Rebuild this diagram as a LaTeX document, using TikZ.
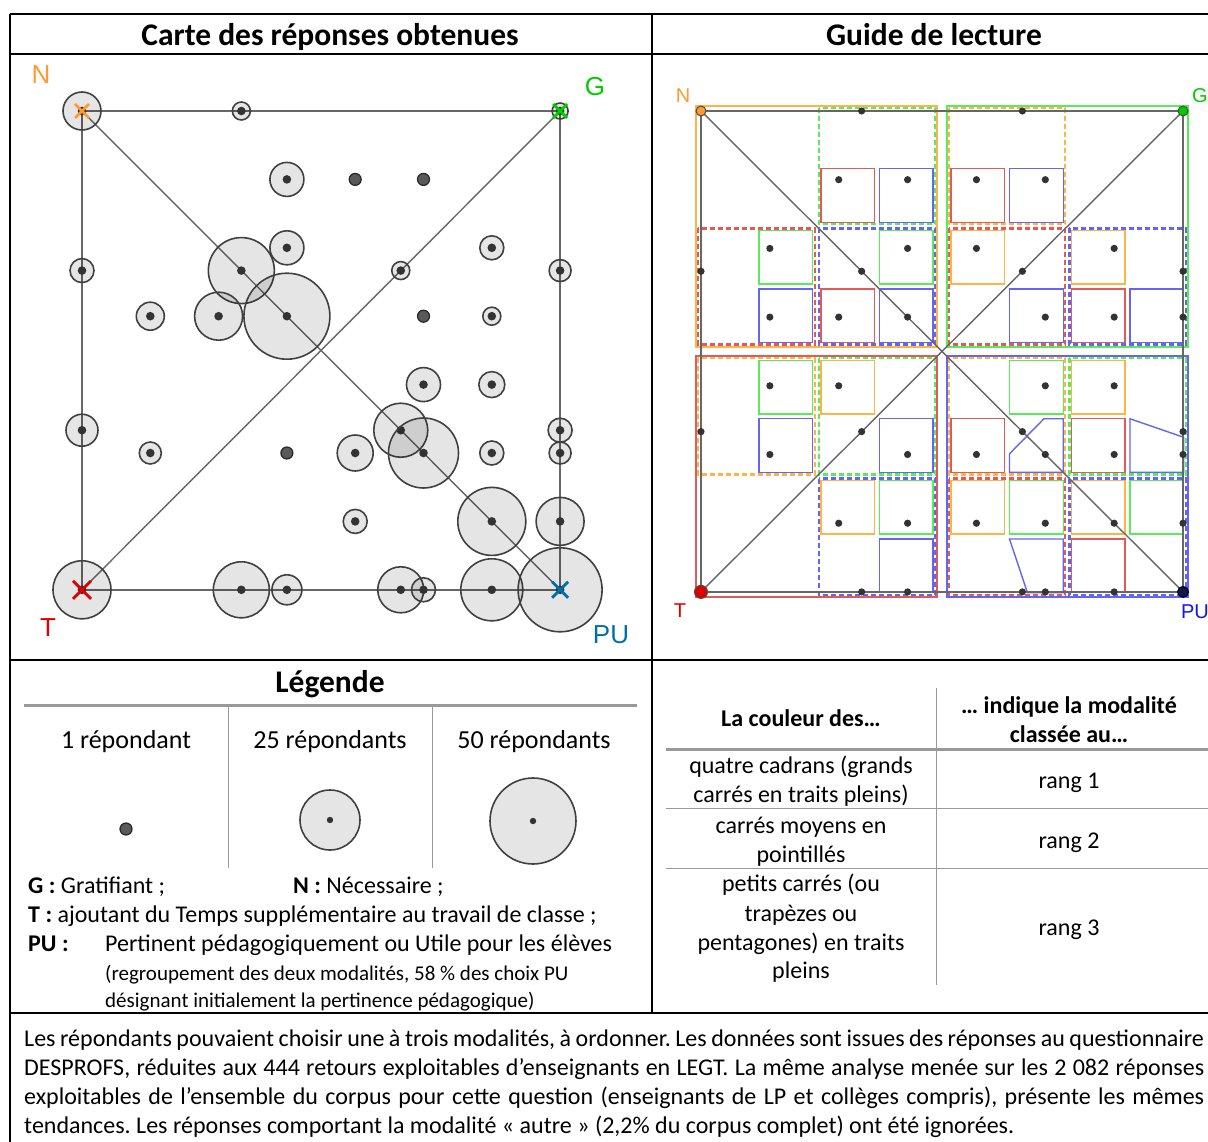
\documentclass[tikz,border=0pt]{standalone}
\usepackage{fontspec}
\setmainfont{Carlito}
\newfontfamily\geofont{Liberation Sans}
\usepackage{tikz}
\definecolor{norange}{RGB}{255,153,51}
\definecolor{ngreen}{RGB}{0,204,0}
\definecolor{nred}{RGB}{220,0,0}
\definecolor{nblue}{RGB}{0,110,170}
\definecolor{corange}{RGB}{255,178,70}
\definecolor{cgreen}{RGB}{90,235,90}
\definecolor{cred}{RGB}{225,90,90}
\definecolor{cblue}{RGB}{100,100,245}
\definecolor{pblue}{RGB}{20,20,240}
\definecolor{navy}{RGB}{20,20,80}
\newcommand{\ftitre}{\fontsize{31.5}{36}\selectfont\bfseries}
\newcommand{\fleg}{\fontsize{26}{31}\selectfont}
\newcommand{\ftexte}{\fontsize{24}{29}\selectfont}
\newcommand{\fpetit}{\fontsize{21}{26}\selectfont}
\newcommand{\fbas}{\fontsize{24}{29}\selectfont\frenchspacing}
\newcommand{\cellpos}[1]{-0.01+3.64*int(#1/4)+1.75*int(mod(#1,4)/2)+0.85*mod(#1,2)}
\newcommand{\midpos}[1]{-0.04+1.75*#1+0.14*int(#1/2)}

\begin{document}
\begin{tikzpicture}[x=1pt, y=-1pt,
	cadre/.style = {line width=2pt, black},
	trait/.style = {line width=1.4pt, black!60},
	rond/.style = {draw=black!75, line width=1.6pt, fill=black, fill opacity=0.1},
	point/.style = {fill=black!80},
	seul/.style = {fill=black!65, draw=black!85, line width=1.2pt},
	croix/.style = {line width=2.8pt},
	grand/.style = {line width=2.2pt},
	moyen/.style = {line width=2.2pt, dash pattern=on 5pt off 3pt},
	petit/.style = {line width=1.4pt},
	txt/.style = {inner sep=0pt, anchor=base},
	txtg/.style = {inner sep=0pt, anchor=base west},
	geo/.style = {inner sep=0pt, font=\geofont\fontsize{26}{30}\selectfont},
	geop/.style = {inner sep=0pt, font=\geofont\fontsize{20}{24}\selectfont},
	regle/.style = {line width=3pt, black!40},
	fine/.style = {line width=1pt, black!40}]
	\useasboundingbox (0,0) rectangle (1208,1142);
	\draw[cadre] (10,14) -- (1208,14);
	\draw[cadre] (10,54) -- (1208,54);
	\draw[cadre] (10,660) -- (1208,660);
	\draw[cadre] (10,1013) -- (1208,1013);
	\draw[cadre] (10,14) -- (10,1142);
	\draw[cadre] (652,14) -- (652,1013);
	\node[txt, font=\ftitre] (titre1) at (330,46) {Carte des réponses obtenues};
	\node[txt, font=\ftitre] (titre2) at (934,46) {Guide de lecture};

	\begin{scope}[shift={(82,111)}, x=68.3pt, y=-68.4pt]
		\coordinate (n) at (0,0);
		\coordinate (g) at (7,0);
		\coordinate (t) at (0,7);
		\coordinate (pu) at (7,7);
		\draw[trait] (n) -- (g) -- (pu) -- (t) -- cycle;
		\draw[trait] (n) -- (pu);
		\draw[trait] (t) -- (g);
		\foreach \x/\y/\r in {0/0/19, 2.333/0/9, 7/0/8, 3/1/17, 3/2/17, 6/2/12,
			0/2.333/12, 2.333/2.333/33, 4.667/2.333/9, 7/2.333/11, 1/3/14, 2/3/24,
			3/3/43, 6/3/9, 5/4/17, 6/4/13, 0/4.667/16, 4.667/4.667/27, 7/4.667/12,
			1/5/11, 4/5/18, 5/5/35, 6/5/12, 7/5/11, 4/6/12, 6/6/34, 7/6/24,
			0/7/29, 2.333/7/28, 3/7/15, 4.667/7/23, 5/7/12, 6/7/31, 7/7/42}
		{
			\draw[rond] (\x,\y) circle[radius=\r pt];
			\fill[point] (\x,\y) circle[radius=4.3pt];
		}
		\foreach \x/\y in {4/1, 5/1, 5/3, 3/5}
			\draw[seul] (\x,\y) circle[radius=6pt];
		\draw[croix, norange] (n) ++(-7pt,-7pt) -- ++(14pt,14pt) (n) ++(-7pt,7pt) -- ++(14pt,-14pt);
		\draw[croix, ngreen] (g) ++(-7pt,-7pt) -- ++(14pt,14pt) (g) ++(-7pt,7pt) -- ++(14pt,-14pt);
		\draw[croix, nred] (t) ++(-9pt,-9pt) -- ++(18pt,18pt) (t) ++(-9pt,9pt) -- ++(18pt,-18pt);
		\draw[croix, nblue] (pu) ++(-8pt,-8pt) -- ++(16pt,16pt) (pu) ++(-8pt,8pt) -- ++(16pt,-16pt);
	\end{scope}
	\node[geo, text=norange] (nlab) at (41,75) {N};
	\node[geo, text=ngreen] (glab) at (595,87) {G};
	\node[geo, text=nred] (tlab) at (48,628) {T};
	\node[geo, text=nblue] (pulab) at (611,635) {PU};

	\begin{scope}[shift={(701,111)}, x=68.86pt, y=-68.7pt]
		\draw[grand, corange] (-0.07,-0.07) rectangle ++(3.5,3.5);
		\draw[grand, cgreen] (3.57,-0.07) rectangle ++(3.5,3.5);
		\draw[grand, cred] (-0.07,3.57) rectangle ++(3.5,3.5);
		\draw[grand, cblue] (3.57,3.57) rectangle ++(3.5,3.5);
		\foreach \col/\i/\j in {cgreen/1/0, cred/0/1, cblue/1/1, corange/2/0, cred/2/1, cblue/3/1,
			corange/0/2, cgreen/1/2, cblue/1/3, corange/2/2, cgreen/3/2, cred/2/3, cblue/3/3}
			\draw[moyen, \col] ({\midpos{\i}},{\midpos{\j}}) rectangle ++(1.69,1.69);
		\foreach \col/\i/\j in {cred/2/1, cblue/3/1, cgreen/1/2, cblue/1/3, cgreen/3/2, cred/2/3, cblue/3/3,
			cred/4/1, cblue/5/1, corange/4/2, cblue/5/3, corange/6/2, cred/6/3, cblue/7/3,
			cgreen/1/4, cblue/1/5, corange/2/4, cblue/3/5, corange/2/6, cgreen/3/6, cblue/3/7,
			cgreen/5/4, cred/4/5, corange/6/4, cred/6/5, corange/4/6, cgreen/5/6, corange/6/6,
			cgreen/7/6, cred/6/7}
			\draw[petit, \col] ({\cellpos{\i}},{\cellpos{\j}}) rectangle ++(0.78,0.78);
		\draw[petit, cblue] (4.48,5.26) -- (4.48,4.99) -- (4.98,4.48) -- (5.26,4.48) -- (5.26,5.26) -- cycle;
		\draw[petit, cblue] (6.23,4.48) -- (7.01,4.75) -- (7.01,5.26) -- (6.23,5.26) -- cycle;
		\draw[petit, cblue] (4.48,6.23) -- (5.26,6.23) -- (5.26,7.01) -- (4.74,7.01) -- cycle;
		\coordinate (n2) at (0,0);
		\coordinate (g2) at (7,0);
		\coordinate (t2) at (0,7);
		\coordinate (pu2) at (7,7);
		\draw[trait] (n2) -- (g2) -- (pu2) -- (t2) -- cycle;
		\draw[trait] (n2) -- (pu2);
		\draw[trait] (t2) -- (g2);
		\foreach \x/\y in {2.333/0, 4.667/0, 2/1, 3/1, 4/1, 5/1, 1/2, 3/2, 4/2, 6/2,
			0/2.333, 2.333/2.333, 4.667/2.333, 7/2.333, 1/3, 2/3, 3/3, 5/3, 6/3, 7/3,
			1/4, 2/4, 5/4, 6/4, 0/4.667, 2.333/4.667, 4.667/4.667, 7/4.667,
			1/5, 3/5, 4/5, 5/5, 6/5, 7/5, 2/6, 3/6, 4/6, 5/6, 6/6, 7/6,
			2.333/7, 3/7, 4.667/7, 5/7, 6/7}
			\fill[point] (\x,\y) circle[radius=3.6pt];
		\filldraw[fill=norange, draw=black!70, line width=1pt] (n2) circle[radius=5pt];
		\filldraw[fill=ngreen, draw=black!70, line width=1pt] (g2) circle[radius=5pt];
		\filldraw[fill=nred, draw=black!70, line width=1pt] (t2) circle[radius=6.5pt];
		\filldraw[fill=navy, draw=black, line width=1pt] (pu2) circle[radius=5.5pt];
	\end{scope}
	\node[geop, text=norange] (nlab2) at (683,96) {N};
	\node[geop, text=ngreen] (glab2) at (1200,96) {G};
	\node[geop, text=nred] (tlab2) at (680,611) {T};
	\node[geop, text=pblue] (pulab2) at (1195,612) {PU};

	\node[txt, font=\ftitre] (legende) at (330,692) {Légende};
	\draw[regle] (24,705) -- (637,705);
	\draw[fine] (228,705) -- (228,868);
	\draw[fine] (432,705) -- (432,868);
	\node[txt, font=\fleg] (un) at (126,748) {1 répondant};
	\node[txt, font=\fleg] (vingt) at (330,748) {25 répondants};
	\node[txt, font=\fleg] (cinquante) at (534,748) {50 répondants};
	\draw[seul] (126,829) circle[radius=6pt];
	\draw[rond] (330,820) circle[radius=30pt];
	\fill[point] (330,820) circle[radius=3.2pt];
	\draw[rond] (533,821) circle[radius=43pt];
	\fill[point] (533,821) circle[radius=3.2pt];
	\node[txtg, font=\ftexte] (legg) at (28,893) {\textbf{G :} Gratifiant ;};
	\node[txtg, font=\ftexte] (legn) at (293,893) {\textbf{N :} Nécessaire ;};
	\node[txtg, font=\ftexte] (legt) at (28,922) {\textbf{T :} ajoutant du Temps supplémentaire au travail de classe ;};
	\node[txtg, font=\ftexte] (legpu) at (28,951) {\textbf{PU :}};
	\node[txtg, font=\ftexte] (legpu2) at (105,951) {Pertinent pédagogiquement ou Utile pour les élèves};
	\node[txtg, font=\fpetit] (legpu3) at (105,980) {(regroupement des deux modalités, 58 \% des choix PU};
	\node[txtg, font=\fpetit] (legpu4) at (105,1007) {désignant initialement la pertinence pédagogique)};

	\draw[fine] (936,688) -- (936,985);
	\draw[regle] (666,749) -- (1208,749);
	\draw[fine] (666,808) -- (1208,808);
	\draw[fine] (666,868) -- (1208,868);
	\node[txt, font=\ftexte\bfseries] (col1) at (801,726) {La couleur des…};
	\node[txt, font=\ftexte\bfseries] (col2a) at (1069,713) {… indique la modalité};
	\node[txt, font=\ftexte\bfseries] (col2b) at (1069,742) {classée au…};
	\node[txt, font=\ftexte] (r1a) at (801,773) {quatre cadrans (grands};
	\node[txt, font=\ftexte] (r1b) at (801,802) {carrés en traits pleins)};
	\node[txt, font=\ftexte] (rang1) at (1069,788) {rang 1};
	\node[txt, font=\ftexte] (r2a) at (801,833) {carrés moyens en};
	\node[txt, font=\ftexte] (r2b) at (801,862) {pointillés};
	\node[txt, font=\ftexte] (rang2) at (1069,848) {rang 2};
	\node[txt, font=\ftexte] (r3a) at (801,891) {petits carrés (ou};
	\node[txt, font=\ftexte] (r3b) at (801,921) {trapèzes ou};
	\node[txt, font=\ftexte] (r3c) at (801,950) {pentagones) en traits};
	\node[txt, font=\ftexte] (r3d) at (801,978) {pleins};
	\node[txt, font=\ftexte] (rang3) at (1069,935) {rang 3};

	\node[txtg, font=\fbas] (bas1) at (24,1046) {\makebox[1180pt][s]{Les répondants pouvaient choisir une à trois modalités, à ordonner. Les données sont issues des réponses au questionnaire}};
	\node[txtg, font=\fbas] (bas2) at (24,1075) {\makebox[1180pt][s]{DESPROFS, réduites aux 444 retours exploitables d’enseignants en LEGT. La même analyse menée sur les 2~082 réponses}};
	\node[txtg, font=\fbas] (bas3) at (24,1104) {\makebox[1180pt][s]{exploitables de l’ensemble du corpus pour cette question (enseignants de LP et collèges compris), présente les mêmes}};
	\node[txtg, font=\fbas] (bas4) at (24,1133) {tendances. Les réponses comportant la modalité « autre » (2,2\% du corpus complet) ont été ignorées.};
\end{tikzpicture}
\end{document}
